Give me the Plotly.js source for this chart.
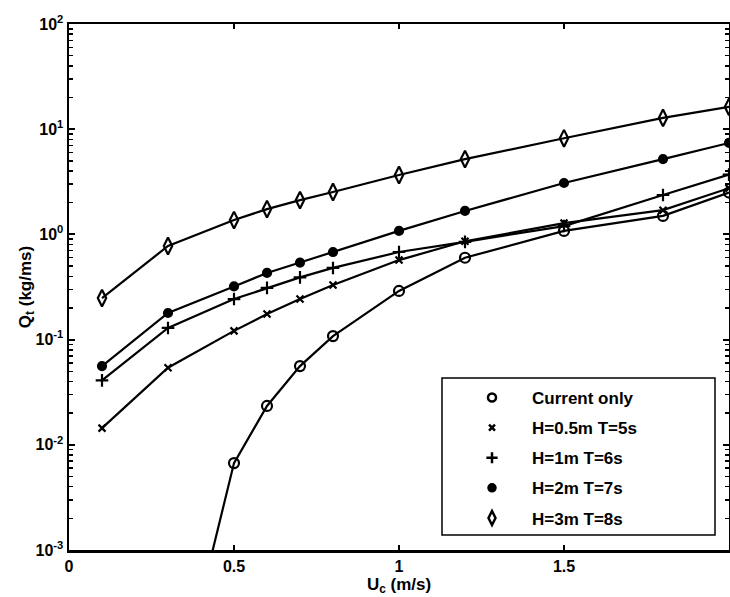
<!DOCTYPE html>
<html>
<head>
<meta charset="utf-8">
<script src="https://cdn.plot.ly/plotly-3.0.1.min.js"></script>
<style>html,body{margin:0;padding:0;background:#fff;}#chart{width:730px;height:597px;}</style>
</head>
<body>
<div id="chart"></div>
<script>
// Data
var uc = [0.1, 0.3, 0.5, 0.6, 0.7, 0.8, 1.0, 1.2, 1.5, 1.8, 2.0];
var ucCurrent = [0.4, 0.5, 0.6, 0.7, 0.8, 1.0, 1.2, 1.5, 1.8, 2.0];
var qCurrentOnly = [0.00035, 0.0067, 0.0234, 0.056, 0.108, 0.29, 0.60, 1.08, 1.5, 2.5];
var qH05T5 = [0.0144, 0.054, 0.121, 0.175, 0.243, 0.33, 0.57, 0.86, 1.28, 1.7, 2.75];
var qH1T6 = [0.041, 0.129, 0.243, 0.31, 0.39, 0.48, 0.68, 0.85, 1.2, 2.37, 3.7];
var qH2T7 = [0.056, 0.179, 0.32, 0.43, 0.54, 0.68, 1.08, 1.67, 3.08, 5.2, 7.4];
var qH3T8 = [0.248, 0.776, 1.37, 1.74, 2.12, 2.53, 3.67, 5.2, 8.2, 12.8, 16.3];
var seriesNames = ['Current only', 'H=0.5m T=5s', 'H=1m T=6s', 'H=2m T=7s', 'H=3m T=8s'];
var xTickVals = [0, 0.5, 1, 1.5, 2];
var xTickText = ['0', '0.5', '1', '1.5', '2'];
var yTickVals = [0.001, 0.01, 0.1, 1, 10, 100];
var yTickText = ['10<sup>-3</sup>', '10<sup>-2</sup>', '10<sup>-1</sup>', '10<sup>0</sup>', '10<sup>1</sup>', '10<sup>2</sup>'];

// minor log ticks (2..9 within each decade)
var minorVals = [];
for (var d = 0; d < yTickVals.length - 1; d++) {
  for (var m = 2; m <= 9; m++) minorVals.push(m * yTickVals[d]);
}

var symbols = ['circle-open', 'x-thin-open', 'cross-thin-open', 'circle', 'diamond-tall-open'];
var sizes = [10, 7, 9, 8, 12];
var legSizes = [8, 6, 8, 7, 10];
var xs = [ucCurrent, uc, uc, uc, uc];
var ys = [qCurrentOnly, qH05T5, qH1T6, qH2T7, qH3T8];

var traces = [];
// dummy trace so the minor-tick overlay axis is drawn
traces.push({x: [null], y: [null], yaxis: 'y2', mode: 'markers', type: 'scatter', showlegend: false, hoverinfo: 'skip'});
for (var i = 0; i < 5; i++) {
  traces.push({
    x: xs[i], y: ys[i], mode: 'lines+markers', type: 'scatter',
    name: seriesNames[i], showlegend: false,
    line: {color: '#000', width: 2.2},
    marker: {symbol: symbols[i], size: sizes[i], color: '#000', line: {color: '#000', width: 2.2}}
  });
}
for (var j = 0; j < 5; j++) {
  traces.push({
    x: [null], y: [null], mode: 'markers', type: 'scatter',
    name: seriesNames[j], legendgroup: 'g' + j, showlegend: true,
    marker: {symbol: symbols[j], size: legSizes[j], color: '#000', line: {color: '#000', width: 2.5}}
  });
}

var fam = 'Liberation Sans, Arial, sans-serif';
var tickFont = {family: fam, size: 16, color: '#000', weight: 'bold'};
var titleFont = {family: fam, size: 17, color: '#000', weight: 'bold'};
var legFont = {family: fam, size: 17, color: '#000', weight: 'bold'};

var layout = {
  width: 730, height: 597,
  margin: {l: 69, r: 1, t: 24, b: 47},
  paper_bgcolor: '#fff', plot_bgcolor: '#fff',
  font: tickFont,
  showlegend: true,
  xaxis: {
    range: [0, 2], tickvals: xTickVals, ticktext: xTickText,
    ticks: 'inside', ticklen: 5, tickwidth: 2, tickcolor: '#000',
    showline: true, linecolor: '#000', linewidth: 2.5, mirror: 'ticks',
    showgrid: false, zeroline: false,
    tickfont: tickFont,
    title: {text: 'U<sub>c</sub> (m/s)', font: titleFont, standoff: 2}
  },
  yaxis: {
    type: 'log', range: [-3, 2], tickvals: yTickVals, ticktext: yTickText,
    ticks: 'inside', ticklen: 6, tickwidth: 2, tickcolor: '#000',
    showline: true, linecolor: '#000', linewidth: 2.5, mirror: 'ticks',
    showgrid: false, zeroline: false,
    tickfont: tickFont,
    title: {text: 'Q<sub>t</sub> (kg/ms)', font: titleFont, standoff: 0}
  },
  yaxis2: {
    type: 'log', range: [-3, 2], overlaying: 'y', side: 'left', anchor: 'x',
    tickvals: minorVals, showticklabels: false,
    ticks: 'inside', ticklen: 4, tickwidth: 1.5, tickcolor: '#000',
    showline: true, linecolor: '#000', linewidth: 2.5, mirror: 'ticks',
    showgrid: false, zeroline: false
  },
  legend: {
    x: (452 - 69) / 660, y: (550 - 380) / 526, xanchor: 'left', yanchor: 'top',
    bgcolor: 'rgba(0,0,0,0)', borderwidth: 0,
    font: legFont, traceorder: 'grouped', tracegroupgap: 5,
    itemwidth: 70
  },
  shapes: [{
    type: 'rect', xref: 'paper', yref: 'paper', layer: 'above',
    x0: (442 - 69) / 660, x1: (715 - 69) / 660,
    y0: (550 - 535) / 526, y1: (550 - 378) / 526,
    line: {color: '#000', width: 1.5}, fillcolor: 'rgba(0,0,0,0)'
  }]
};

Plotly.newPlot('chart', traces, layout, {displayModeBar: false, staticPlot: true});
</script>
</body>
</html>
